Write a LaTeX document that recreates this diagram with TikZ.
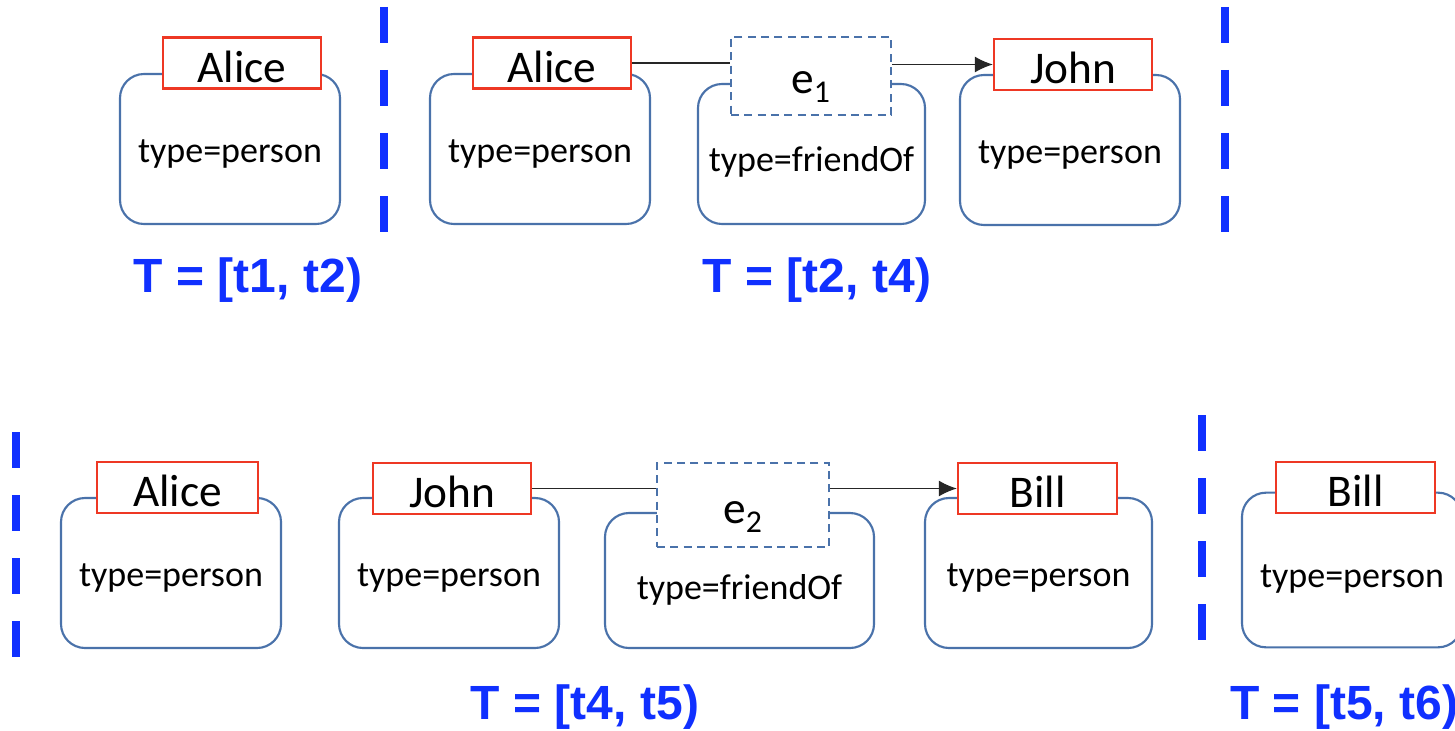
\documentclass[tikz,border=0pt]{standalone}
\usepackage{fontspec}
\setmainfont{Carlito}
\newfontfamily\tfont{Liberation Sans}
\usetikzlibrary{arrows.meta}
\definecolor{boxblue}{RGB}{74,114,170}
\definecolor{lblred}{RGB}{238,56,36}
\definecolor{tblue}{RGB}{16,48,255}
\begin{document}
\begin{tikzpicture}[x=0.75pt,y=-0.75pt,
  vbox/.style={draw=boxblue, line width=1.6pt, rounded corners=18pt, minimum width=165pt, minimum height=112.5pt, inner sep=0pt, fill=white, text height=20pt, text depth=0pt, font=\fontsize{27}{32}\selectfont},
  namebox/.style={draw=lblred, line width=1.8pt, fill=white, minimum width=118.5pt, minimum height=38.5pt, inner sep=0pt, text height=29pt, text depth=0pt, font=\fontsize{34}{40}\selectfont},
  ebox/.style={draw=boxblue, line width=1.6pt, dash pattern=on 6pt off 4pt, fill=white, inner sep=0pt, text height=27pt, text depth=0pt, font=\fontsize{34}{40}\selectfont},
  tlabel/.style={text=tblue, inner sep=0pt, font=\tfont\bfseries\fontsize{36}{42}\selectfont},
  sepline/.style={draw=tblue, line width=6pt, dash pattern=on 27pt off 20.25pt},
  edgeline/.style={draw=black!85, line width=1pt},
  arrowtip/.style={-{Latex[length=13.5pt,width=12pt]}}
]
\useasboundingbox (0,0) rectangle (1455,731);
\clip (0,0) rectangle (1455,731);

% separators
\draw[sepline] (384,7) -- (384,236);
\draw[sepline] (1225,7) -- (1225,236);
\draw[sepline] (16,432) -- (16,661);
\draw[sepline] (1202,415) -- (1202,644);

% ---- top row ----
\node[vbox] (a1) at (230,149) {type=person};
\node[namebox] (a1n) at (242,63) {Alice};
\node[tlabel] (t12) at (248,280) {T = [t1, t2)};

\node[vbox] (a2) at (540,149) {type=person};
\node[namebox] (a2n) at (552,63) {Alice};

\node[vbox, minimum width=170.25pt, minimum height=105pt] (f1) at (811.5,154) {\raisebox{-3pt}{type=friendOf}};
\node[ebox, minimum width=120pt, minimum height=58.5pt] (e1) at (811,76) {e\textsubscript{1}};

\node[vbox] (j1) at (1070,150) {type=person};
\node[namebox] (j1n) at (1073,64.5) {John};
\node[tlabel] (t24) at (817,280) {T = [t2, t4)};

\draw[edgeline] (a2n.east) -- (e1.west |- a2n.east);
\draw[edgeline, arrowtip] (e1.east |- j1n.west) -- (j1n.west);

% ---- bottom row ----
\node[vbox] (a3) at (171,573) {type=person};
\node[namebox, minimum width=120.75pt] (a3n) at (177.5,487.5) {Alice};

\node[vbox] (j2) at (449,573) {type=person};
\node[namebox] (j2n) at (452,488.5) {John};

\node[vbox, minimum width=201.75pt, minimum height=101.25pt] (f2) at (739.5,580.5) {\raisebox{-4pt}{type=friendOf}};
\node[ebox, minimum width=129pt, minimum height=63pt] (e2) at (743,505) {e\textsubscript{2}};

\node[vbox, minimum width=170.25pt] (b1) at (1038.5,573) {type=person};
\node[namebox, minimum width=119.25pt] (b1n) at (1037.5,488.5) {Bill};
\node[tlabel] (t45) at (585,707) {T = [t4, t5)};

\draw[edgeline] (j2n.east) -- (e2.west |- j2n.east);
\draw[edgeline, arrowtip] (e2.east |- b1n.west) -- (b1n.west);

\node[vbox, minimum height=116pt] (b2) at (1352,570) {\raisebox{-3pt}{type=person}};
\node[namebox, minimum width=119.25pt] (b2n) at (1355.5,487.5) {Bill};
\node[tlabel, anchor=west] (t56) at (1230,707) {T = [t5, t6)};
\end{tikzpicture}
\end{document}
